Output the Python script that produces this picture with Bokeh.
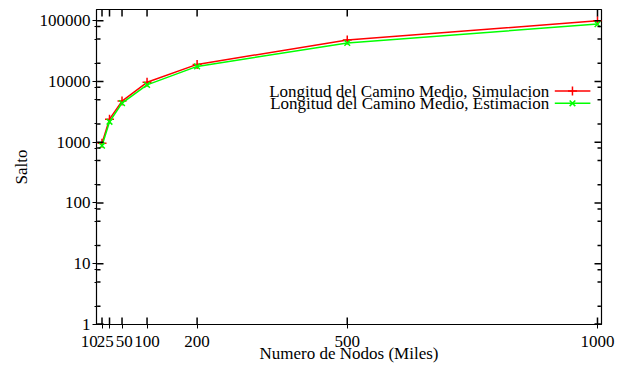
import math
from bokeh.plotting import figure
from bokeh.models import Range1d, FixedTicker, Label, PrintfTickFormatter
from bokeh.embed import file_html
from bokeh.resources import INLINE

# ---- data ----
nodos = [10, 25, 50, 100, 200, 500, 1000]
simulacion = [960, 2400, 4750, 9700, 19100, 48000, 100000]
estimacion = [875, 2170, 4400, 8800, 17700, 43000, 88000]
x_ticks = [10, 25, 50, 100, 200, 500, 1000]
x_tick_labels = ["10", "25", "50", "100", "200", "500", "1000"]
y_ticks = [1, 10, 100, 1000, 10000, 100000]
y_minor_mult = [2, 5, 8]
series_names = ["Longitud del Camino Medio, Simulacion", "Longitud del Camino Medio, Estimacion"]
x_label = "Numero de Nodos (Miles)"
y_label = "Salto"

FONT = "Liberation Serif"
FS = "17px"
FW, FH = 505, 315
X0, X1 = -1, 1008
Y0, Y1 = 1, 153000
y_minor = [m * 10 ** e for e in range(0, 6) for m in y_minor_mult]
NB = "\u00a0"
# gnuplot spreads the crowded small-value labels; emulate with padding
pad = {10: (0, 6), 25: (0, 2), 50: (1, 0)}

p = figure(frame_width=FW, frame_height=FH,
           x_range=Range1d(X0, X1), y_range=Range1d(Y0, Y1), y_axis_type="log",
           output_backend="svg", toolbar_location=None,
           min_border_left=96, min_border_right=15, min_border_top=9, min_border_bottom=35)
p.grid.visible = False
p.outline_line_color = "black"
p.outline_line_width = 1.2
p.background_fill_color = "white"
p.border_fill_color = "white"

def style_axis(ax):
    ax.major_tick_in = 0
    ax.major_tick_out = 4
    ax.minor_tick_in = 0
    ax.minor_tick_out = 2
    ax.major_tick_line_color = "black"
    ax.minor_tick_line_color = "black"
    ax.axis_line_color = "black"
    ax.major_label_text_font = FONT
    ax.major_label_text_font_size = FS
    ax.major_label_text_color = "black"
    ax.axis_label_text_font = FONT
    ax.axis_label_text_font_size = FS
    ax.axis_label_text_font_style = "normal"
    ax.axis_label_text_color = "black"

xa = p.xaxis[0]
style_axis(xa)
xa.ticker = FixedTicker(ticks=x_ticks, minor_ticks=[])
overrides = {}
for t, s in zip(x_ticks, x_tick_labels):
    a, b = pad.get(t, (0, 0))
    overrides[t] = NB * a + s + NB * b
xa.major_label_overrides = overrides
xa.major_label_standoff = 3
xa.axis_label = x_label
xa.axis_label_standoff = -10

ya = p.yaxis[0]
style_axis(ya)
ya.ticker = FixedTicker(ticks=y_ticks, minor_ticks=y_minor)
ya.formatter = PrintfTickFormatter(format="%d")
ya.major_label_standoff = 2
ya.axis_label = y_label
ya.axis_label_standoff = 6

RED = "#ff0000"
GREEN = "#00ff00"
TICK = "#000000"

p.line(nodos, simulacion, line_color=RED, line_width=1.5)
p.scatter(nodos, simulacion, marker="cross", size=9, line_color=RED, line_width=1.5)
p.line(nodos, estimacion, line_color=GREEN, line_width=1.5)
p.scatter(nodos, estimacion, marker="x", size=8, line_color=GREEN, line_width=1.5)

# ---- inward tick marks on all four sides (gnuplot style) ----
lo, hi = math.log10(Y0), math.log10(Y1)
dpx = (X1 - X0) / FW          # data units per pixel (x)
dly = (hi - lo) / FH          # decades per pixel (y)
EPS = 0.6                     # start just inside the frame edge

for t in x_ticks:
    for a, b in ((lo + EPS * dly, lo + 7 * dly), (hi - EPS * dly, hi - 7 * dly)):
        p.line([t, t], [10 ** a, 10 ** b], line_color=TICK, line_width=1.5)
for vals, length in ((y_ticks, 7), (y_minor, 4)):
    for v in vals:
        yv = max(v, 10 ** (lo + EPS * dly))
        p.line([X0 + EPS * dpx, X0 + length * dpx], [yv, yv], line_color=TICK, line_width=1.5)
        p.line([X1 - EPS * dpx, X1 - length * dpx], [yv, yv], line_color=TICK, line_width=1.5)

# ---- manual legend (gnuplot style: text, then sample) ----
def fx(f):
    return X0 + f * (X1 - X0)

def fy(f):
    return 10 ** (lo + f * (hi - lo))

rows = [(series_names[0], RED, "cross", 9, 0.7413, 0.7405),
        (series_names[1], GREEN, "x", 8, 0.7022, 0.7005)]
for name, col, mk, sz, fline, ftext in rows:
    p.add_layout(Label(x=fx(0.8965), y=fy(ftext), text=name, text_align="right",
                       text_baseline="alphabetic", text_font=FONT, text_font_size=FS,
                       text_color="black"))
    p.segment(x0=[fx(0.9075)], y0=[fy(fline)], x1=[fx(0.978)], y1=[fy(fline)],
              line_color=col, line_width=1.5)
    p.scatter([fx(0.9425)], [fy(fline)], marker=mk, size=sz, line_color=col, line_width=1.5)

open("out.html", "w").write(file_html(p, INLINE))
